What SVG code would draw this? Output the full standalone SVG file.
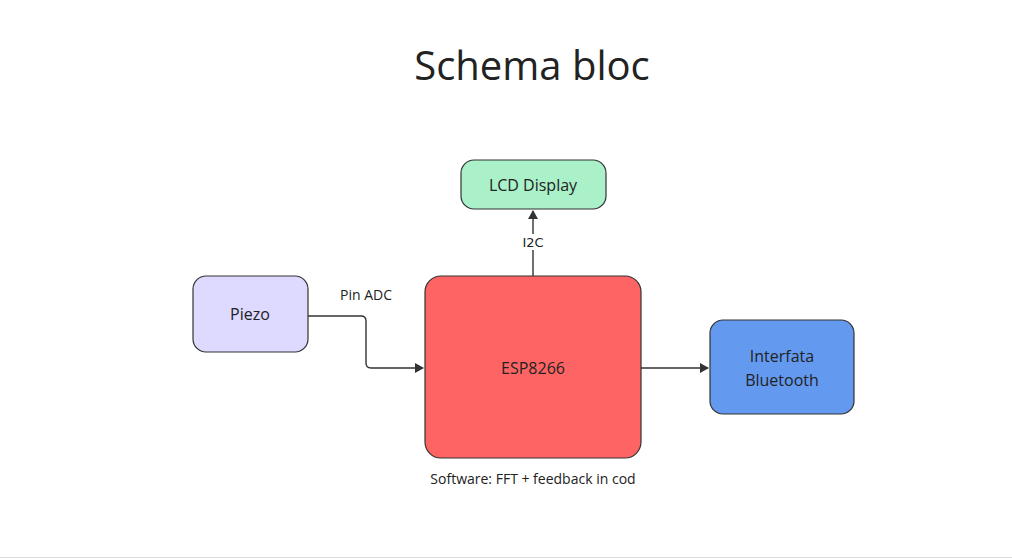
<svg xmlns="http://www.w3.org/2000/svg" width="1012" height="560" viewBox="0 0 1012 560">
<style>
.n{stroke:#333;stroke-width:1.2}
.t{font-family:"Open Sans","Noto Sans",sans-serif;font-size:16px;fill:#222;text-anchor:middle}
.l{font-family:"Open Sans","Noto Sans",sans-serif;font-size:14px;fill:#222;text-anchor:middle}
.c{fill:none;stroke:#333;stroke-width:1.4}
</style>
<defs><marker id="a" markerWidth="10" markerHeight="10" refX="8" refY="5" orient="auto" markerUnits="userSpaceOnUse"><path d="M0,0 L9,5 L0,10 Z" fill="#333"/></marker></defs>
<rect width="1012" height="560" fill="#fff"/>
<line x1="0" y1="557.5" x2="1012" y2="557.5" stroke="#ddd"/>
<text x="532" y="80" class="t" style="font-size:40px">Schema bloc</text>
<g id="connectors">
<path class="c" d="M308,316 H361 Q366,316 366,321 V363 Q366,368 371,368 H423" marker-end="url(#a)"/>
<path class="c" d="M533,276 V211" marker-end="url(#a)"/>
<path class="c" d="M641,368 H708" marker-end="url(#a)"/>
<rect x="520" y="234" width="26" height="16" fill="#fff"/>
<text x="533" y="247" class="l" style="font-family:'DejaVu Sans',sans-serif;font-size:13px">I2C</text>
<text x="366" y="300" class="l">Pin ADC</text>
</g>
<g id="piezo"><rect class="n" x="193" y="276" width="115" height="76" rx="13" fill="#ddd9ff"/><text x="250" y="320" class="t">Piezo</text></g>
<g id="lcd"><rect class="n" x="461" y="160" width="145" height="49" rx="13" fill="#aaf0c8"/><text x="533" y="191" class="t">LCD Display</text></g>
<g id="esp"><rect class="n" x="425" y="276" width="216" height="182" rx="16" fill="#ff6464"/><text x="533" y="374" class="t">ESP8266</text><text x="533" y="484" class="l">Software: FFT + feedback in cod</text></g>
<g id="bt"><rect class="n" x="710" y="320" width="144" height="94" rx="13" fill="#6499f0"/><text x="782" y="362" class="t">Interfata</text><text x="782" y="386" class="t">Bluetooth</text></g>
</svg>
